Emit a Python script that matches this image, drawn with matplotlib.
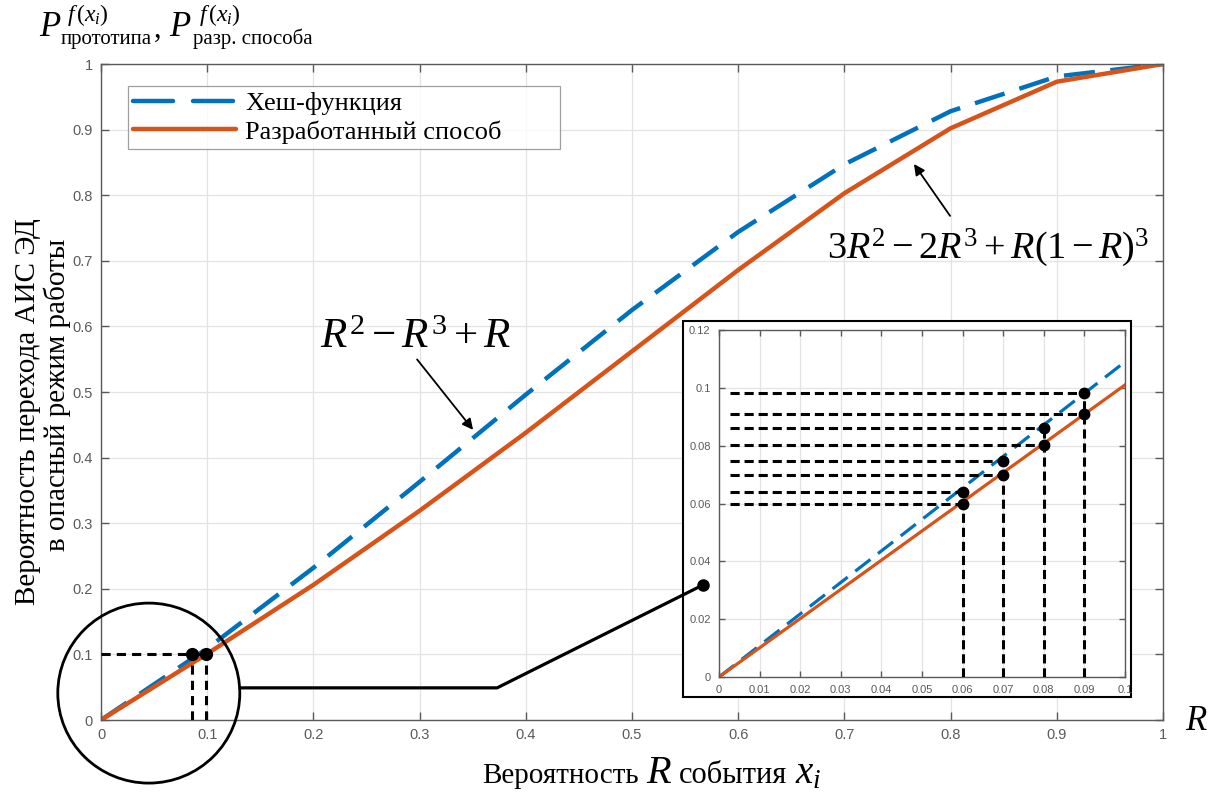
import matplotlib
matplotlib.use("Agg")
import matplotlib.pyplot as plt
from matplotlib.lines import Line2D
from matplotlib.patches import Ellipse, Rectangle

# Main curves, read at R = 0, 0.1, ..., 1
r_values = [0.0, 0.1, 0.2, 0.3, 0.4, 0.5, 0.6, 0.7, 0.8, 0.9, 1.0]
hash_values = [0.0, 0.109, 0.232, 0.363, 0.496, 0.625, 0.744, 0.847, 0.928, 0.981, 1.0]
method_values = [0.0, 0.101, 0.206, 0.319, 0.438, 0.562, 0.686, 0.803, 0.902, 0.973, 1.0]

# Points marked at P = 0.1 on the main chart
main_mark_x = [0.086, 0.099]
main_mark_y = 0.1

# Inset (zoom of the 0..0.1 region)
inset_r = [0.0, 0.1]
inset_hash = [0.0, 0.109]
inset_method = [0.0, 0.101]
inset_mark_x = [0.06, 0.07, 0.08, 0.09]
inset_mark_low = [0.060, 0.070, 0.0804, 0.0909]
inset_mark_high = [0.064, 0.0747, 0.0862, 0.0981]

main_ticks = [0, 0.1, 0.2, 0.3, 0.4, 0.5, 0.6, 0.7, 0.8, 0.9, 1.0]
main_tick_labels = ["0", "0.1", "0.2", "0.3", "0.4", "0.5", "0.6", "0.7", "0.8", "0.9", "1"]
inset_xticks = [0, 0.01, 0.02, 0.03, 0.04, 0.05, 0.06, 0.07, 0.08, 0.09, 0.1]
inset_xtick_labels = ["0", "0.01", "0.02", "0.03", "0.04", "0.05", "0.06", "0.07", "0.08", "0.09", "0.1"]
inset_yticks = [0, 0.02, 0.04, 0.06, 0.08, 0.1, 0.12]
inset_ytick_labels = ["0", "0.02", "0.04", "0.06", "0.08", "0.1", "0.12"]

legend_labels = ["Хеш-функция", "Разработанный способ"]

BLUE = "#0072BD"
ORANGE = "#D95319"
TICK_GRAY = "#5a5a5a"
W, H = 1213, 794

plt.rcParams["font.family"] = ["Liberation Serif", "DejaVu Serif"]
plt.rcParams["mathtext.fontset"] = "custom"
plt.rcParams["mathtext.rm"] = "Liberation Serif"
plt.rcParams["mathtext.it"] = "Liberation Serif:italic"


def px(x, y):
    # figure pixel (from top-left) -> figure fraction
    return x / W, 1 - y / H


def style_axes(ax, ticks_x, labels_x, ticks_y, labels_y, size, length):
    ax.set_xticks(ticks_x)
    ax.set_xticklabels(labels_x)
    ax.set_yticks(ticks_y)
    ax.set_yticklabels(labels_y)
    ax.tick_params(direction="in", top=True, right=True, length=length,
                   width=1, color=TICK_GRAY, labelcolor=TICK_GRAY, labelsize=size, pad=6)
    for lab in ax.get_xticklabels() + ax.get_yticklabels():
        lab.set_family("Liberation Sans")
    for sp in ax.spines.values():
        sp.set_color(TICK_GRAY)
        sp.set_linewidth(1.0)
    ax.grid(True, color="#e3e3e3", linewidth=0.9)
    ax.set_axisbelow(True)


fig = plt.figure(figsize=(W / 100, H / 100), dpi=100)

# ---- main axes ----
ax = fig.add_axes([101 / W, 1 - 720 / H, 1062 / W, 656 / H])
ax.plot(r_values, hash_values, color=BLUE, linewidth=3.2, dashes=(7, 3.5))
ax.plot(r_values, method_values, color=ORANGE, linewidth=3.2)
ax.set_xlim(0, 1)
ax.set_ylim(0, 1)
style_axes(ax, main_ticks, main_tick_labels, main_ticks, main_tick_labels, 10.5, 6)

# marked points at P = 0.1
ax.plot([0, main_mark_x[1]], [main_mark_y, main_mark_y], color="black",
        linewidth=2.2, dashes=(3, 2), zorder=5)
for mx in main_mark_x:
    ax.plot([mx, mx], [0, main_mark_y], color="black", linewidth=2.2, dashes=(3, 2), zorder=5)
ax.plot(main_mark_x, [main_mark_y] * 2, "o", color="black", markersize=8.5, zorder=6)

# circle around the zoomed region
ax.add_patch(Ellipse((0.045, 0.041), 2 * 91 / 1062, 2 * 90 / 656, fill=False,
                     edgecolor="black", linewidth=2, clip_on=False, zorder=6))

handles = [
    Line2D([], [], color=BLUE, linewidth=3.2, dashes=(9, 4.5), dash_capstyle="round"),
    Line2D([], [], color=ORANGE, linewidth=3.2, solid_capstyle="round"),
]
labels = [legend_labels[0], legend_labels[1] + "\u00a0" * 8]
leg = ax.legend(handles, labels, loc="upper left", bbox_to_anchor=(27 / 1062, 1 - 22 / 656),
                prop={"family": "Liberation Serif", "size": 19}, handlelength=3.9,
                frameon=True, fancybox=False, edgecolor="#888888",
                borderpad=0.2, labelspacing=0.2, handletextpad=0.35, borderaxespad=0)
leg.get_frame().set_linewidth(0.9)

# formula annotations
ax.annotate("", xy=(0.352, 0.439), xytext=(0.296, 0.553),
            arrowprops=dict(arrowstyle="-|>", color="black", lw=1.3, mutation_scale=16))
ax.text(0.296, 0.567, "$R^2-R^3+R$", fontsize=31, ha="center", va="baseline")
ax.annotate("", xy=(0.764, 0.851), xytext=(0.801, 0.765),
            arrowprops=dict(arrowstyle="-|>", color="black", lw=1.3, mutation_scale=16))
ax.text(0.835, 0.704, "$3R^2-2R^3+R(1-R)^3$", fontsize=27.5, ha="center", va="baseline")

# ---- inset ----
fx, fy = px(683, 697)
fig.patches.append(Rectangle((fx, fy), 448 / W, 376 / H, transform=fig.transFigure,
                             facecolor="white", edgecolor="black", linewidth=1.5, zorder=8))
axi = fig.add_axes([719 / W, 1 - 677 / H, 406 / W, 347 / H], zorder=10)
axi.plot(inset_r, inset_hash, color=BLUE, linewidth=2.3, dashes=(6, 3))
axi.plot(inset_r, inset_method, color=ORANGE, linewidth=2.3)
axi.set_xlim(0, 0.1)
axi.set_ylim(0, 0.12)
style_axes(axi, inset_xticks, inset_xtick_labels, inset_yticks, inset_ytick_labels, 8, 4)

for x, lo, hi in zip(inset_mark_x, inset_mark_low, inset_mark_high):
    for yv in (lo, hi):
        axi.plot([0.0027, x], [yv, yv], color="black", linewidth=2.2, dashes=(3, 1.6), zorder=5)
    axi.plot([x, x], [0, hi], color="black", linewidth=2.2, dashes=(3, 1.6), zorder=5)
    axi.plot([x, x], [lo, hi], "o", color="black", markersize=7.5, zorder=6)

# connector from the circle to the inset, drawn above the inset frame
fig.add_artist(Line2D([0.131, 0.373, 0.567], [0.049, 0.049, 0.206], color="black",
                      linewidth=2.3, transform=ax.transData, zorder=20))
fig.add_artist(Line2D([0.567], [0.206], marker="o", color="black", markersize=8,
                      transform=ax.transData, zorder=21))

# ---- labels ----
fig.text(*px(28, 412), "Вероятность перехода АИС ЭД", rotation=90,
         fontsize=21, ha="center", va="center")
fig.text(*px(57, 395), "в опасный режим работы", rotation=90,
         fontsize=21, ha="center", va="center")

# x label built from pieces so that R and x_i can be larger
renderer = fig.canvas.get_renderer()
pieces = [("Вероятность", 21, 0), ("$R$", 29, 7), ("события", 22, 7), ("$x_i$", 28, 8)]
cur_x = 482
for txt, size, gap in pieces:
    cur_x += gap
    t = fig.text(*px(cur_x, 783), txt, fontsize=size, ha="left", va="baseline")
    cur_x = t.get_window_extent(renderer).x1

# top-left axis title: P^{f(x_i)}_{...}, P^{f(x_i)}_{...}
fig.text(*px(39, 36), "$P$", fontsize=25, ha="left", va="baseline")
fig.text(*px(67, 21), r"$f\,(x_i)$", fontsize=17, ha="left", va="baseline")
fig.text(*px(61, 44), "прототипа", fontsize=15, ha="left", va="baseline")
fig.text(*px(154, 37), ",", fontsize=22, ha="left", va="baseline")
fig.text(*px(169, 36), "$P$", fontsize=25, ha="left", va="baseline")
fig.text(*px(199, 21), r"$f\,(x_i)$", fontsize=17, ha="left", va="baseline")
fig.text(*px(193, 44), "разр. способа", fontsize=15, ha="left", va="baseline")

fig.text(*px(1185, 730), "$R$", fontsize=25, ha="left", va="baseline")

fig.savefig("out.png", dpi=100)
